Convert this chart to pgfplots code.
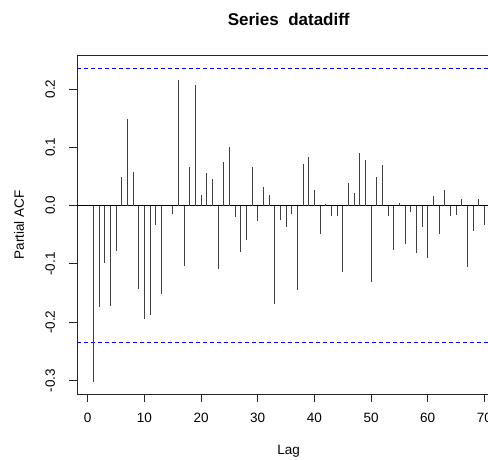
\documentclass[border=0pt]{standalone}
\usepackage{fontspec}
\setmainfont{Liberation Sans}
\usepackage{pgfplots}
\usepackage{pgfplotstable}
\pgfplotsset{compat=1.18}

% partial autocorrelations, lags 1..70
\pgfplotstableread{
lag pacf
1 -0.303
2 -0.174
3 -0.099
4 -0.172
5 -0.077
6 0.049
7 0.148
8 0.057
9 -0.143
10 -0.195
11 -0.187
12 -0.033
13 -0.152
14 0.000
15 -0.015
16 0.216
17 -0.103
18 0.066
19 0.207
20 0.018
21 0.056
22 0.046
23 -0.108
24 0.074
25 0.100
26 -0.019
27 -0.079
28 -0.059
29 0.067
30 -0.026
31 0.032
32 0.018
33 -0.168
34 -0.025
35 -0.036
36 -0.014
37 -0.144
38 0.072
39 0.084
40 0.026
41 -0.049
42 0.003
43 -0.017
44 -0.018
45 -0.114
46 0.038
47 0.022
48 0.090
49 0.078
50 -0.131
51 0.049
52 0.070
53 -0.018
54 -0.076
55 0.004
56 -0.065
57 -0.011
58 -0.081
59 -0.036
60 -0.089
61 0.016
62 -0.048
63 0.026
64 -0.017
65 -0.016
66 0.012
67 -0.106
68 -0.043
69 0.012
70 -0.033
}\pacftable

\begin{document}
\begin{tikzpicture}
\begin{axis}[
  at={(77.5pt,65pt)}, anchor=south west,
  scale only axis,
  width=422.5pt, height=338.3pt,
  xmin=-1.8, xmax=72.76,
  ymin=-0.323, ymax=0.257,
  axis line style={black!85, line width=0.9pt},
  tick style={black!85, line width=0.9pt},
  tick align=outside,
  major tick length=8pt,
  xtick pos=left, ytick pos=left,
  xtick={0,10,...,70},
  ytick={-0.3,-0.2,-0.1,0,0.1,0.2},
  yticklabels={-0.3,-0.2,-0.1,0.0,0.1,0.2},
  /pgf/number format/assume math mode=true,
  tick label style={font=\fontsize{13.5}{16}\selectfont},
  xticklabel style={anchor=base, yshift=-20.6pt},
  yticklabel style={xshift=-14.5pt, rotate=90, anchor=base},
  title={\textbf{Series\ \ datadiff}},
  every axis title/.style={at={(axis description cs:0.5,1)}, anchor=base, yshift=30.7pt,
    font=\fontsize{17}{20}\selectfont},
  xlabel={Lag},
  every axis x label/.style={at={(axis description cs:0.5,0)}, anchor=base, yshift=-60.5pt,
    font=\fontsize{13.5}{16}\selectfont},
  ylabel={Partial ACF},
  every axis y label/.style={at={(axis description cs:0,0.5)}, xshift=-53.5pt, rotate=90, anchor=base,
    font=\fontsize{13.5}{16}\selectfont},
]
\addplot[black, line width=0.9pt] coordinates {(-1.8,0) (72.76,0)};
\addplot[blue, line width=0.9pt, dash pattern=on 4pt off 3pt] coordinates {(-1.8,0.235) (72.76,0.235)};
\addplot[blue, line width=0.9pt, dash pattern=on 4pt off 3pt] coordinates {(-1.8,-0.235) (72.76,-0.235)};
\addplot[ycomb, black!75, line width=1pt, no marks] table[x=lag, y=pacf] {\pacftable};
\end{axis}
\pgfresetboundingbox
\path[use as bounding box] (0pt,0pt) rectangle (488pt,459pt);
\end{tikzpicture}
\end{document}
